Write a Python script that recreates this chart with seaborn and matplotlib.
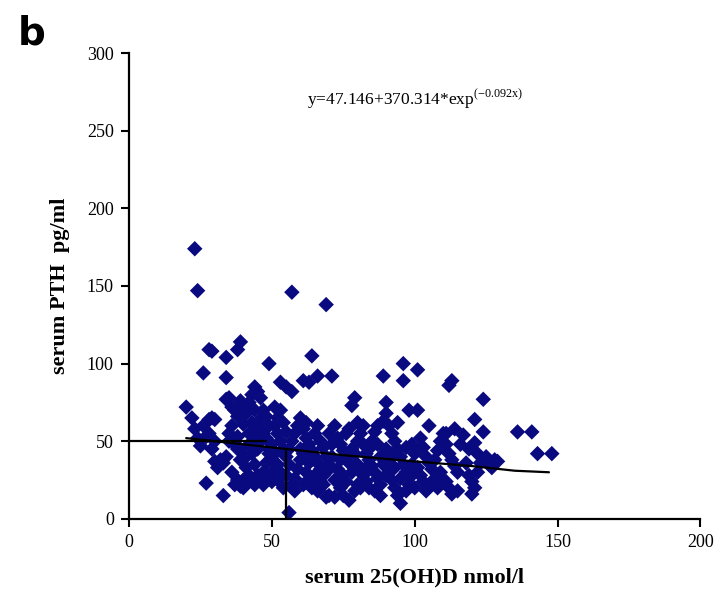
import matplotlib
matplotlib.use("Agg")
import matplotlib.pyplot as plt
import seaborn as sns
import pandas as pd

# scatter points: (serum 25(OH)D, serum PTH)
points_20_30 = [(20,72),(22,65),(23,58),(24,52),(25,47),(26,60),(27,23),(27,53),(28,64),(29,65),(30,64),
                (29,45),(28,55),(30,37),(31,33),(30,50),(23,174),(24,147),(26,94),(29,108),(28,109)]
points_30_40 = [(33,15),(32,38),(34,40),(33,36),(34,77),(35,78),(36,72),(37,70),(38,66),(36,60),(35,55),
                (37,48),(38,45),(36,30),(38,25),(37,22),(39,21),(40,20),(40,25),(34,91),(34,104),(38,109),
                (39,114),(35,50),(39,38),(39,45),(38,53),(40,61),(40,72),(39,76)]
points_40_50 = [(41,68),(42,75),(43,80),(44,85),(45,82),(46,78),(44,70),(43,62),(42,55),(45,58),(46,64),
                (47,70),(48,66),(49,60),(42,48),(43,42),(44,35),(45,28),(46,25),(47,30),(48,36),(49,42),
                (50,48),(41,33),(42,28),(43,24),(44,22),(47,22),(48,27),(49,100),(46,50),(45,45),(47,55),
                (48,52),(49,45),(50,38),(50,30),(50,24),(41,40),(44,52)]
points_50_60 = [(51,60),(52,65),(53,70),(51,72),(52,55),(53,50),(54,45),(55,40),(56,35),(53,30),(52,25),
                (55,28),(57,22),(58,26),(56,45),(57,50),(58,55),(59,60),(60,65),(53,88),(55,85),(57,82),
                (56,4),(57,146),(54,20),(58,18),(59,32),(60,38),(60,45),(51,42),(52,35),(54,62),(55,56)]
points_60_70 = [(61,89),(63,88),(64,105),(66,92),(69,138),(61,58),(62,52),(63,48),(64,44),(65,40),(66,36),
                (67,32),(68,28),(62,30),(63,25),(64,20),(66,18),(68,22),(70,15),(69,14),(61,22),(62,62),
                (65,55),(66,60),(67,50),(68,46),(69,40),(70,35),(70,55),(61,42),(63,36),(65,28),(67,24),(69,30)]
points_70_80 = [(71,92),(72,60),(73,52),(74,48),(75,44),(76,40),(77,36),(78,30),(72,25),(74,20),(75,15),
                (77,12),(79,18),(80,22),(76,55),(77,58),(78,73),(79,78),(80,62),(71,40),(73,32),(75,28),
                (76,24),(78,45),(80,50),(80,35),(72,14),(74,38),(79,42),(71,48)]
points_80_90 = [(81,55),(82,48),(83,42),(84,38),(85,34),(86,30),(87,26),(88,22),(82,28),(83,24),(84,20),
                (86,18),(88,15),(81,32),(85,50),(86,56),(87,60),(89,63),(89,92),(90,75),(90,68),(82,60),
                (84,45),(88,40),(89,35),(90,28),(90,45),(81,20),(87,48),(83,33)]
points_90_100 = [(91,60),(92,55),(93,50),(94,45),(95,40),(96,35),(97,30),(92,25),(93,20),(94,15),(95,10),
                 (97,18),(98,22),(99,28),(96,100),(96,89),(98,70),(99,48),(100,42),(91,38),(93,33),(95,26),
                 (97,46),(94,62),(92,42),(100,20),(99,35),(91,30)]
points_100_110 = [(101,96),(101,70),(102,52),(103,46),(104,40),(105,36),(106,32),(102,28),(103,24),(104,18),
                  (106,22),(107,26),(108,44),(109,50),(110,55),(105,60),(107,38),(101,33),(109,30),(110,25),(108,20)]
points_110_120 = [(112,86),(113,89),(111,48),(112,42),(113,38),(114,34),(115,30),(111,24),(112,20),(113,16),
                  (115,18),(116,48),(117,54),(118,36),(119,28),(120,24),(111,55),(114,58),(119,45)]
points_120_150 = [(121,64),(121,49),(124,56),(124,77),(120,16),(121,20),(122,30),(123,36),(125,40),(126,35),
                  (128,38),(129,37),(127,33),(122,42),(136,56),(141,56),(143,42),(148,42)]

# fitted curve as drawn
fit_x = [20, 35, 55, 75, 100, 120, 135, 147]
fit_y = [52, 49, 45, 41, 37, 34, 31, 30]
# reference lines
hline_x = [0, 48]
hline_y = [50, 50]
vline_x = [55, 55]
vline_y = [0, 44]

x_ticks = [0, 50, 100, 150, 200]
y_ticks = [0, 50, 100, 150, 200, 250, 300]

all_points = (points_20_30 + points_30_40 + points_40_50 + points_50_60 + points_60_70 + points_70_80 +
              points_80_90 + points_90_100 + points_100_110 + points_110_120 + points_120_150)
df = pd.DataFrame(all_points, columns=["vitd", "pth"])

sns.set_style("white")
plt.rcParams['font.family'] = ['Liberation Serif', 'DejaVu Serif']
plt.rcParams['mathtext.fontset'] = 'custom'
plt.rcParams['mathtext.rm'] = 'Liberation Serif'
plt.rcParams['text.color'] = 'black'
plt.rcParams['axes.labelcolor'] = 'black'

fig = plt.figure(figsize=(7.25, 6.04), dpi=100)
ax = fig.add_axes([0.178, 0.141, 0.788, 0.771])

sns.scatterplot(data=df, x="vitd", y="pth", marker="D", color="#0a0a80", s=62,
                edgecolor="none", ax=ax, zorder=2)
sns.lineplot(x=fit_x, y=fit_y, color="black", lw=1.6, ax=ax, zorder=3)
sns.lineplot(x=hline_x, y=hline_y, color="black", lw=1.6, ax=ax, zorder=3)
ax.plot(vline_x, vline_y, color="black", lw=1.6, zorder=3)

ax.set_xlim(0, 200)
ax.set_ylim(0, 300)
ax.set_xticks(x_ticks)
ax.set_yticks(y_ticks)
ax.tick_params(bottom=True, left=True, direction="out", length=6, width=1.5,
               labelsize=13, colors="black", pad=5)
for side in ["top", "right"]:
    ax.spines[side].set_visible(False)
for side in ["left", "bottom"]:
    ax.spines[side].set_color("black")
    ax.spines[side].set_linewidth(1.6)

ax.set_xlabel("serum 25(OH)D nmol/l", fontsize=16, fontweight="bold", labelpad=12)
ax.set_ylabel("serum PTH  pg/ml", fontsize=16, fontweight="bold", labelpad=12)

ax.text(100, 270, r"y=47.146+370.314*exp$^{\mathrm{(-0.092x)}}$", fontsize=12.5, ha="center", va="center")
fig.text(0.025, 0.945, "b", fontsize=28, fontweight="bold", family="DejaVu Sans",
         color="black", ha="left", va="center")

fig.savefig("out.png", dpi=100)
